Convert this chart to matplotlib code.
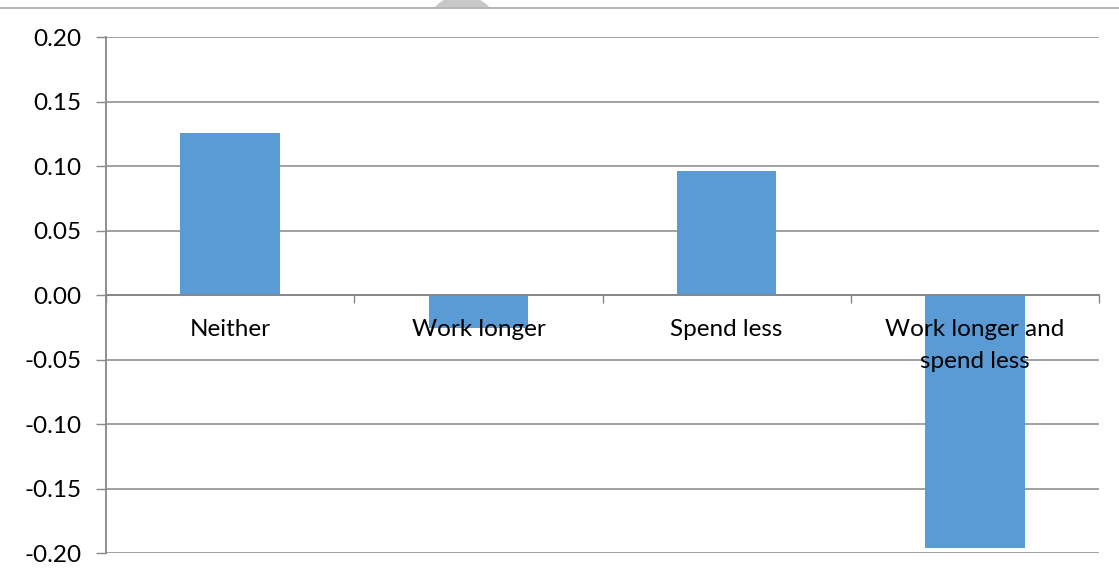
import numpy as np
import matplotlib
matplotlib.use('Agg')
import matplotlib.pyplot as plt
import matplotlib.ticker as mticker
from matplotlib.patches import Circle, Rectangle

categories = ['Neither', 'Work longer', 'Spend less', 'Work longer and\nspend less']
values = [0.126, -0.025, 0.096, -0.196]
y_ticks = [-0.20, -0.15, -0.10, -0.05, 0.00, 0.05, 0.10, 0.15, 0.20]

plt.rcParams['font.family'] = ['Lato', 'DejaVu Sans']
plt.rcParams['axes.unicode_minus'] = False

W, H = 1119, 579
fig = plt.figure(figsize=(W / 100, H / 100), dpi=100)
ax = fig.add_axes([106 / W, 1 - 553.3 / H, (1099 - 106) / W, (553.3 - 37.3) / H])

grid_col = '#878787'
bar_col = '#5b9bd5'

x = np.arange(len(categories))
ax.bar(x, values, width=0.4, color=bar_col, zorder=2)

ax.set_xlim(-0.5, len(categories) - 0.5)
ax.set_ylim(-0.2, 0.2)
ax.set_yticks(y_ticks)
ax.yaxis.set_major_formatter(mticker.FormatStrFormatter('%.2f'))
ax.yaxis.grid(True, color=grid_col, linewidth=1.1)
ax.set_axisbelow(True)

# 类别边界的刻度线放在零线上
ax.set_xticks(np.arange(len(categories) + 1) - 0.5)
ax.set_xticklabels([])
ax.spines['bottom'].set_position(('data', 0))
for s in ['top', 'right']:
    ax.spines[s].set_visible(False)
for s in ['left', 'bottom']:
    ax.spines[s].set_color(grid_col)
    ax.spines[s].set_linewidth(1.3)
    ax.spines[s].set_zorder(3)
ax.tick_params(axis='x', direction='out', length=6, color=grid_col, width=1.0)
ax.tick_params(axis='y', direction='out', length=7, color=grid_col, width=1.0,
               labelsize=17.5, labelcolor='black', pad=10.5)

for i, lab in enumerate(categories):
    ax.annotate(lab, xy=(i, 0), xytext=(0, -17), textcoords='offset points',
                ha='center', va='top', fontsize=17.5, color='black',
                linespacing=1.65, zorder=4)

# 页面上方的边线和水印残影
fig.add_artist(plt.Line2D([0, 1], [1 - 8 / H, 1 - 8 / H], color='#a8a8a8', linewidth=1.2))
clip = Rectangle((0, 1 - 7 / H), 1, 7 / H, transform=fig.transFigure)
dome = Circle((462, H - 31.5), 35.8, transform=None, color='#c8c8c8')
fig.add_artist(dome)
dome.set_clip_path(clip)

fig.savefig('out.png', dpi=100)
